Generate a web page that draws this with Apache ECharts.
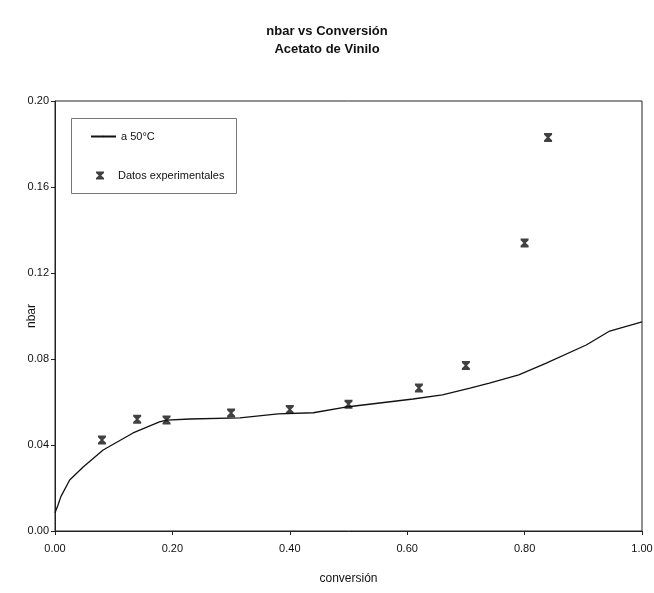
<!DOCTYPE html>
<html><head><meta charset="utf-8">
<script src="https://cdn.jsdelivr.net/npm/echarts@6/dist/echarts.min.js"></script>
<style>html,body{margin:0;padding:0;background:#fff}#c{width:654px;height:593px}</style>
</head><body><div id="c"></div>
<script>
var titleLines = ['nbar vs Conversión', 'Acetato de Vinilo'];
var xAxisName = 'conversión';
var yAxisName = 'nbar';
var lineName = 'a 50°C';
var pointsName = 'Datos experimentales';

// model curve (a 50°C)
var curveX = [0.0, 0.005, 0.01, 0.025, 0.048, 0.082, 0.133, 0.178, 0.19, 0.23, 0.315, 0.38, 0.44, 0.50, 0.61, 0.66, 0.707, 0.74, 0.79, 0.836, 0.905, 0.945, 1.0];
var curveY = [0.0085, 0.012, 0.016, 0.0237, 0.0298, 0.0377, 0.0456, 0.0508, 0.0516, 0.0521, 0.0526, 0.0545, 0.055, 0.0578, 0.0614, 0.0633, 0.0665, 0.0688, 0.0726, 0.078, 0.0865, 0.093, 0.0973];

// experimental data
var expX = [0.08, 0.14, 0.19, 0.30, 0.40, 0.50, 0.62, 0.70, 0.80, 0.84];
var expY = [0.0423, 0.052, 0.0516, 0.0549, 0.0565, 0.059, 0.0665, 0.077, 0.134, 0.183];

var FONT = "'Liberation Sans Narrow', 'Liberation Sans', Arial, sans-serif";
var hourglass = 'path://M0,0 L10,0 L10,2 L6.5,5 L10,8 L10,10 L0,10 L0,8 L3.5,5 L0,2 Z';

var chart = echarts.init(document.getElementById('c'));
chart.setOption({
  backgroundColor: '#fff',
  animation: false,
  title: {
    text: titleLines.join('\n'),
    left: 'center', top: 17,
    textStyle: {fontFamily: FONT, fontSize: 13, fontWeight: 'bold', color: '#111', lineHeight: 18}
  },
  grid: {left: 55, right: 12, top: 101, bottom: 62, show: true, borderColor: '#222', borderWidth: 1,
         containLabel: false, outerBoundsMode: 'none'},
  xAxis: {
    type: 'value', min: 0, max: 1, interval: 0.2,
    name: xAxisName, nameLocation: 'middle', nameGap: 42, nameMoveOverlap: false,
    nameTextStyle: {fontFamily: FONT, fontSize: 12, color: '#111'},
    axisLine: {lineStyle: {color: '#222'}},
    axisTick: {show: true, length: 4, lineStyle: {color: '#222'}},
    axisLabel: {fontFamily: FONT, fontSize: 11, color: '#111', margin: 12, formatter: function(v){return v.toFixed(2);}},
    splitLine: {show: false}
  },
  yAxis: {
    type: 'value', min: 0, max: 0.2, interval: 0.04,
    name: yAxisName, nameLocation: 'middle', nameGap: 17, nameRotate: 90, nameMoveOverlap: false,
    nameTextStyle: {fontFamily: FONT, fontSize: 12, color: '#111'},
    axisLine: {show: true, lineStyle: {color: '#222'}},
    axisTick: {show: true, length: 4, lineStyle: {color: '#222'}},
    axisLabel: {fontFamily: FONT, fontSize: 11, color: '#111', margin: 6, formatter: function(v){return v.toFixed(2);}},
    splitLine: {show: false}
  },
  legend: [{
    data: [lineName], orient: 'vertical', left: 85, top: 126,
    itemWidth: 25, itemHeight: 2,
    textStyle: {fontFamily: FONT, fontSize: 11, color: '#111'}
  }, {
    data: [{name: pointsName, icon: hourglass}], orient: 'vertical', left: 91, top: 165,
    itemWidth: 8, itemHeight: 9,
    textStyle: {fontFamily: FONT, fontSize: 11, color: '#111', padding: [0, 0, 0, 9]}
  }],
  graphic: [{
    type: 'rect', left: 69, top: 116, shape: {width: 165, height: 75},
    style: {fill: 'none', stroke: '#777', lineWidth: 1}, z: -1
  }],
  series: [{
    name: lineName, type: 'line', showSymbol: false, symbol: 'none',
    data: curveX.map(function(x, i){return [x, curveY[i]];}),
    lineStyle: {color: '#111', width: 1.3},
    itemStyle: {color: '#111'}
  }, {
    name: pointsName, type: 'scatter', symbol: hourglass, symbolSize: [8, 9],
    data: expX.map(function(x, i){return [x, expY[i]];}),
    itemStyle: {color: '#111'}
  }]
});
</script></body></html>
